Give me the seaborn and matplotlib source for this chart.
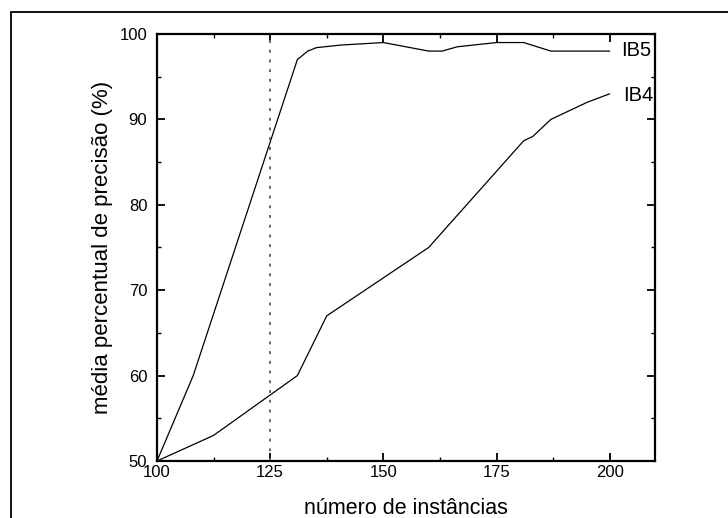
import matplotlib
matplotlib.use("Agg")
import matplotlib.pyplot as plt
import matplotlib.patches as mpatches
from matplotlib.ticker import MultipleLocator
import seaborn as sns
import pandas as pd

# ---- data ----
ib5_x = [100, 108, 131, 133.3, 135.2, 140.5, 150, 155, 160, 163, 166.3, 175, 181, 187, 200]
ib5_y = [50, 60, 97, 98, 98.4, 98.7, 99, 98.5, 98, 98, 98.5, 99, 99, 98, 98]
ib4_x = [100, 112.5, 131, 137.5, 160, 181, 183, 187, 195, 200]
ib4_y = [50, 53, 60, 67, 75, 87.5, 88, 90, 92, 93]
series_names = ["IB5", "IB4"]
x_ticks = [100, 125, 150, 175, 200]
y_ticks = [50, 60, 70, 80, 90, 100]
vline_x = 125
xlabel = "número de instâncias"
ylabel = "média percentual de precisão (%)"

df = pd.concat([
    pd.DataFrame({"x": ib5_x, "y": ib5_y, "serie": series_names[0]}),
    pd.DataFrame({"x": ib4_x, "y": ib4_y, "serie": series_names[1]}),
])

sns.set_theme(style="ticks")
plt.rcParams["font.family"] = ["Liberation Sans", "DejaVu Sans"]

fig = plt.figure(figsize=(7.28, 5.18), dpi=100)
ax = fig.add_axes([157 / 728, 1 - 461 / 518, (655 - 157) / 728, (461 - 34) / 518])

for name in series_names:
    sub = df[df["serie"] == name]
    sns.lineplot(data=sub, x="x", y="y", ax=ax, color="black", linewidth=0.9,
                 sort=False, estimator=None, legend=False)

ax.axvline(vline_x, color="#666666", linewidth=1.4, linestyle=(0, (1.5, 3.5)))

ax.set_xlim(100, 210)
ax.set_ylim(50, 100)
ax.set_xticks(x_ticks)
ax.set_yticks(y_ticks)
ax.xaxis.set_minor_locator(MultipleLocator(12.5))
ax.yaxis.set_minor_locator(MultipleLocator(5))
ax.tick_params(which="both", direction="in", top=True, right=True, color="black",
               labelcolor="black", labelsize=12)
ax.tick_params(which="major", length=6, width=1.3, pad=3)
ax.tick_params(which="minor", length=3, width=1.0)
ax.tick_params(axis="y", which="major", pad=7)
for sp in ax.spines.values():
    sp.set_linewidth(1.6)
    sp.set_color("black")

ax.set_xlabel(xlabel, fontsize=15.5, color="black")
ax.set_ylabel(ylabel, fontsize=16, color="black")
ax.xaxis.label.set_va("baseline")
ax.xaxis.set_label_coords(0.5 - (157 + 249 - 404) / 498 * 0, (461 - 514) / 427)
ax.yaxis.label.set_va("center")
ax.yaxis.set_label_coords((103 - 157) / 498, 0.5 - (260 - 247.5) / 427 * 0)

ax.text(202.6, 98.1, series_names[0], fontsize=14.5, ha="left", va="center", color="black")
ax.text(203.0, 92.8, series_names[1], fontsize=14.5, ha="left", va="center", color="black")

# outer frame (cut off at right/bottom like the reference)
rect = mpatches.Rectangle((11 / 728, -0.2), 1.2, 1 - 12 / 518 + 0.2, transform=fig.transFigure,
                          fill=False, edgecolor="black", linewidth=1.3, clip_on=False)
fig.patches.append(rect)

fig.savefig("out.png", dpi=100, facecolor="white")
